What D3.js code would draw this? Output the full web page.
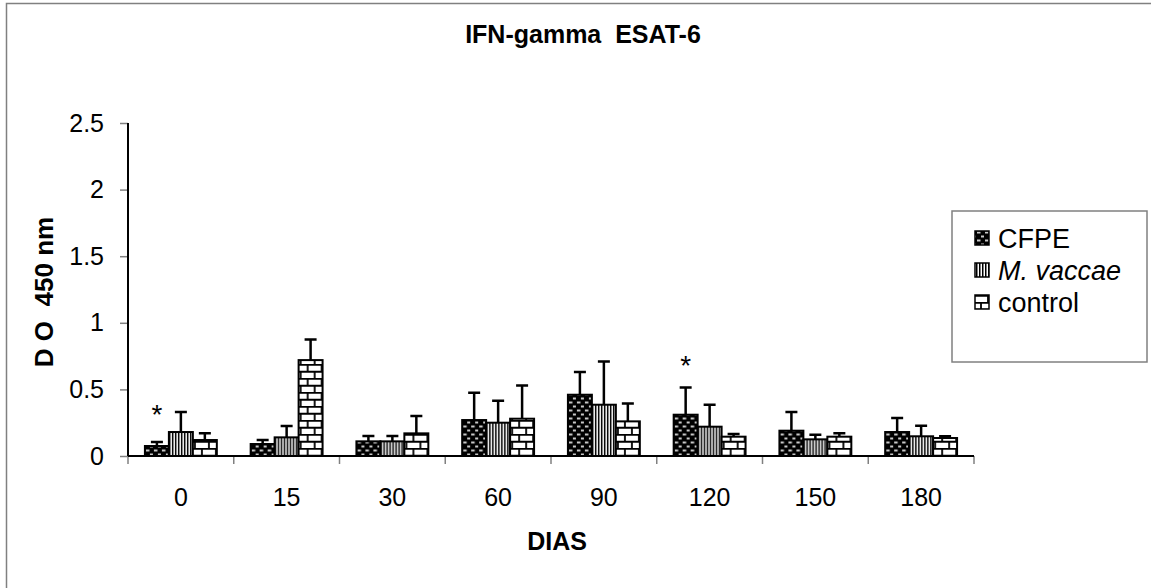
<!DOCTYPE html>
<html>
<head>
<meta charset="utf-8">
<script src="https://cdn.jsdelivr.net/npm/d3@7"></script>
<style>
  body { margin: 0; background: #fff; }
  text { font-family: Arial, "Liberation Sans", sans-serif; }
</style>
</head>
<body>
<div id="chart-area"></div>
<script>
// --- Data ---
var days = ["0", "15", "30", "60", "90", "120", "150", "180"];
var seriesNames = ["CFPE", "M. vaccae", "control"];
var cfpe = [0.075, 0.09, 0.11, 0.27, 0.46, 0.31, 0.19, 0.18];
var cfpeSd = [0.03, 0.03, 0.04, 0.205, 0.17, 0.205, 0.14, 0.105];
var mVaccae = [0.18, 0.14, 0.11, 0.25, 0.385, 0.22, 0.125, 0.148];
var mVaccaeSd = [0.15, 0.085, 0.04, 0.165, 0.325, 0.165, 0.035, 0.08];
var control = [0.12, 0.72, 0.17, 0.28, 0.26, 0.145, 0.145, 0.135];
var controlSd = [0.05, 0.155, 0.13, 0.25, 0.135, 0.02, 0.025, 0.013];
var yTicks = [0, 0.5, 1, 1.5, 2, 2.5];
var starDays = ["0", "120"];
var starLevels = [0.36, 0.73];

var means = [cfpe, mVaccae, control];
var sds = [cfpeSd, mVaccaeSd, controlSd];

// --- Canvas ---
var canvasWidth = 1151;
var canvasHeight = 588;
var canvas = d3.select("#chart-area").append("svg")
  .attr("width", canvasWidth)
  .attr("height", canvasHeight);

var plot = {left: 128, right: 974, top: 123, bottom: 456};
var tickFont = 25;
var labelFont = 25;
var legendFont = 27;

// outer chart border (only top and left are visible in the picture)
canvas.append("path")
  .attr("d", "M6.5," + canvasHeight + "V3.5H" + canvasWidth)
  .attr("fill", "none")
  .attr("stroke", "#808080")
  .attr("stroke-width", 1.5);

// --- Patterns ---
var defs = canvas.append("defs");

var pDots = defs.append("pattern")
  .attr("id", "pat-cfpe")
  .attr("patternUnits", "userSpaceOnUse")
  .attr("width", 8).attr("height", 8);
pDots.append("rect").attr("width", 8).attr("height", 8).attr("fill", "#000");
pDots.append("rect").attr("x", 1).attr("y", 1.5).attr("width", 3.5).attr("height", 2).attr("fill", "#c8c8c8");
pDots.append("rect").attr("x", 5).attr("y", 5.5).attr("width", 3.5).attr("height", 2).attr("fill", "#c8c8c8");

var pStripes = defs.append("pattern")
  .attr("id", "pat-mvac")
  .attr("patternUnits", "userSpaceOnUse")
  .attr("width", 3).attr("height", 4);
pStripes.append("rect").attr("width", 3).attr("height", 4).attr("fill", "#fff");
pStripes.append("rect").attr("width", 1.5).attr("height", 4).attr("fill", "#000");

var pBricks = defs.append("pattern")
  .attr("id", "pat-ctrl")
  .attr("patternUnits", "userSpaceOnUse")
  .attr("width", 14).attr("height", 14);
pBricks.append("rect").attr("width", 14).attr("height", 14).attr("fill", "#fff");
pBricks.append("path")
  .attr("d", "M0,0.75H14M0,7.75H14M1,0V7M8,7V14")
  .attr("stroke", "#000")
  .attr("stroke-width", 1.8)
  .attr("fill", "none");

var patternIds = ["url(#pat-cfpe)", "url(#pat-mvac)", "url(#pat-ctrl)"];

// --- Scales ---
var x0 = d3.scaleBand()
  .domain(days)
  .range([plot.left, plot.right])
  .paddingInner(0.32)
  .paddingOuter(0.16);

var x1 = d3.scaleBand()
  .domain(d3.range(seriesNames.length))
  .range([0, x0.bandwidth()]);

var y = d3.scaleLinear()
  .domain([0, 2.5])
  .range([plot.bottom, plot.top]);

// --- Axes ---
var yAxisGroup = canvas.append("g")
  .attr("transform", "translate(" + plot.left + ",0)")
  .call(d3.axisLeft(y).tickValues(yTicks).tickSize(8).tickPadding(16).tickFormat(function(d) { return String(d); }));
yAxisGroup.selectAll(".tick line").attr("stroke", "#808080").attr("stroke-width", 1.5);
yAxisGroup.select(".domain").remove();
yAxisGroup.selectAll("text").attr("font-size", tickFont + "px").attr("fill", "#000");

var xAxisGroup = canvas.append("g")
  .attr("transform", "translate(0," + plot.bottom + ")")
  .call(d3.axisBottom(x0).tickSize(0).tickPadding(32));
xAxisGroup.select(".domain").remove();
xAxisGroup.selectAll("text").attr("font-size", tickFont + "px").attr("fill", "#000");

// category boundary ticks
canvas.append("g").selectAll("line")
  .data(d3.range(days.length + 1))
  .enter().append("line")
  .attr("x1", function(i) { return plot.left + i * x0.step(); })
  .attr("x2", function(i) { return plot.left + i * x0.step(); })
  .attr("y1", plot.bottom)
  .attr("y2", plot.bottom + 8)
  .attr("stroke", "#808080")
  .attr("stroke-width", 1.5);

// --- Bars ---
var groups = canvas.append("g").selectAll("g")
  .data(days)
  .enter().append("g")
  .attr("transform", function(d) { return "translate(" + x0(d) + ",0)"; });

var barData = function(d, i) {
  return seriesNames.map(function(s, k) {
    return {series: k, value: means[k][i], sd: sds[k][i]};
  });
};

groups.each(function(d, i) {
  var g = d3.select(this);
  var rows = barData(d, i);

  // error bars (upper only), drawn first so the bar outline covers the foot
  g.selectAll(".err")
    .data(rows)
    .enter().append("path")
    .attr("class", "err")
    .attr("d", function(r) {
      var cx = x1(r.series) + x1.bandwidth() / 2;
      var top = y(r.value + r.sd);
      return "M" + cx + "," + y(r.value) + "V" + top + "M" + (cx - 6) + "," + top + "H" + (cx + 6);
    })
    .attr("fill", "none")
    .attr("stroke", "#000")
    .attr("stroke-width", 2.5);

  g.selectAll(".bar")
    .data(rows)
    .enter().append("rect")
    .attr("class", "bar")
    .attr("x", function(r) { return x1(r.series); })
    .attr("y", function(r) { return y(r.value); })
    .attr("width", x1.bandwidth())
    .attr("height", function(r) { return y(0) - y(r.value); })
    .attr("fill", function(r) { return patternIds[r.series]; })
    .attr("stroke", "#000")
    .attr("stroke-width", 2);
});

// axis lines on top
canvas.append("line")
  .attr("x1", plot.left).attr("x2", plot.left)
  .attr("y1", plot.top).attr("y2", plot.bottom)
  .attr("stroke", "#000").attr("stroke-width", 2);
canvas.append("line")
  .attr("x1", plot.left).attr("x2", plot.right)
  .attr("y1", plot.bottom).attr("y2", plot.bottom)
  .attr("stroke", "#000").attr("stroke-width", 2);

// --- Significance marks ---
canvas.append("g").selectAll("text")
  .data(starDays)
  .enter().append("text")
  .attr("x", function(d) { return x0(d) + x1(0) + x1.bandwidth() / 2; })
  .attr("y", function(d, i) { return y(starLevels[i]) + 16; })
  .attr("text-anchor", "middle")
  .attr("font-size", "28px")
  .text("*");

// --- Labels ---
canvas.append("text")
  .attr("x", 583)
  .attr("y", 43)
  .attr("text-anchor", "middle")
  .attr("font-size", labelFont + "px")
  .attr("font-weight", "bold")
  .style("white-space", "pre")
  .text("IFN-gamma  ESAT-6");

canvas.append("text")
  .attr("x", 557)
  .attr("y", 550)
  .attr("text-anchor", "middle")
  .attr("font-size", labelFont + "px")
  .attr("font-weight", "bold")
  .text("DIAS");

canvas.append("text")
  .attr("transform", "translate(53,292) rotate(-90)")
  .attr("text-anchor", "middle")
  .attr("font-size", "26px")
  .attr("font-weight", "bold")
  .style("white-space", "pre")
  .text("D O  450 nm");

// --- Legend ---
var legend = canvas.append("g")
  .attr("transform", "translate(952,211)");
legend.append("rect")
  .attr("width", 195)
  .attr("height", 151)
  .attr("fill", "#fff")
  .attr("stroke", "#808080")
  .attr("stroke-width", 1.5);

seriesNames.forEach(function(name, i) {
  var row = legend.append("g")
    .attr("transform", "translate(0," + (27 + i * 32) + ")");
  row.append("rect")
    .attr("x", 23)
    .attr("y", -7)
    .attr("width", 14)
    .attr("height", 14)
    .attr("fill", patternIds[i])
    .attr("stroke", "#000")
    .attr("stroke-width", 1.5);
  row.append("text")
    .attr("x", 46)
    .attr("y", 9.5)
    .attr("font-size", legendFont + "px")
    .style("font-style", i === 1 ? "italic" : "normal")
    .text(name);
});
</script>
</body>
</html>
